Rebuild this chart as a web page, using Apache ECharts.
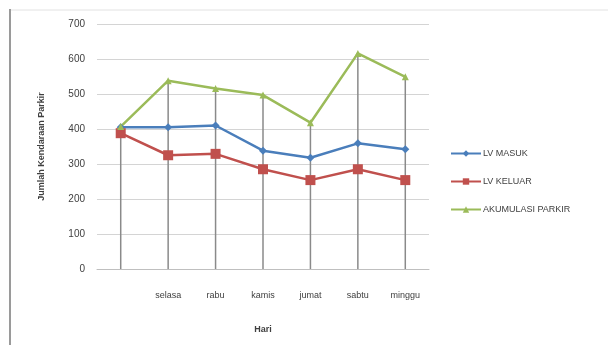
<!DOCTYPE html>
<html>
<head>
<meta charset="utf-8">
<script src="https://cdn.jsdelivr.net/npm/echarts@6/dist/echarts.min.js"></script>
<style>
  html, body { margin: 0; padding: 0; background: #fff; }
  #chart { width: 608px; height: 345px; }
</style>
</head>
<body>
<div id="chart"></div>
<script>
// Days of the week (first label left blank)
const days = ['', 'selasa', 'rabu', 'kamis', 'jumat', 'sabtu', 'minggu'];
// Vehicles entering, leaving and accumulated parking per day
const lvMasuk = [405, 405, 410, 338, 318, 359, 342];
const lvKeluar = [388, 325, 329, 285, 254, 285, 254];
const akumulasi = [407, 538, 516, 497, 418, 616, 549];
const yTicks = [0, 100, 200, 300, 400, 500, 600, 700];

// Drop lines run from the highest point of each day down to the axis
const dropTop = days.map((_, i) => Math.max(lvMasuk[i], lvKeluar[i], akumulasi[i]));

const textColor = '#404040';
const font = 'Liberation Sans, Arial, sans-serif';

const chart = echarts.init(document.getElementById('chart'), null, { renderer: 'canvas' });
chart.setOption({
  backgroundColor: '#fff',
  animation: false,
  graphic: [
    { type: 'line', shape: { x1: 10, y1: 10, x2: 608, y2: 10 }, style: { stroke: '#e2e2e2', lineWidth: 1 } },
    { type: 'line', shape: { x1: 10, y1: 9, x2: 10, y2: 345 }, style: { stroke: '#9a9a9a', lineWidth: 2 } }
  ],
  grid: { left: 97, right: 179, top: 24, bottom: 76 },
  legend: {
    orient: 'vertical',
    left: 445,
    top: 144,
    itemGap: 19,
    itemWidth: 30,
    itemHeight: 8,
    textStyle: { fontSize: 9, color: textColor, fontFamily: font, padding: [0, 0, 0, -3] },
    data: ['LV MASUK', 'LV KELUAR', 'AKUMULASI PARKIR']
  },
  xAxis: {
    type: 'category',
    data: days,
    boundaryGap: true,
    name: 'Hari',
    nameLocation: 'middle',
    nameGap: 56,
    nameTextStyle: { fontSize: 9, fontWeight: 'bold', color: textColor, fontFamily: font },
    axisLine: { lineStyle: { color: '#bfbfbf', width: 1 } },
    axisTick: { show: false },
    axisLabel: { fontSize: 9, color: textColor, margin: 22, fontFamily: font, interval: 0 }
  },
  yAxis: {
    type: 'value',
    min: yTicks[0],
    max: yTicks[yTicks.length - 1],
    interval: 100,
    name: 'Jumlah Kendaraan Parkir',
    nameLocation: 'middle',
    nameGap: 51,
    nameTextStyle: { fontSize: 9, fontWeight: 'bold', color: textColor, fontFamily: font },
    axisLine: { show: false },
    axisTick: { show: false },
    axisLabel: { fontSize: 10, color: textColor, margin: 12, fontFamily: font },
    splitLine: { lineStyle: { color: '#d4d4d4', width: 1 } }
  },
  series: [
    {
      name: 'drop',
      type: 'bar',
      data: dropTop,
      barWidth: 1.5,
      itemStyle: { color: '#8a8a8a' },
      silent: true,
      z: 1
    },
    {
      name: 'LV MASUK',
      type: 'line',
      data: lvMasuk,
      symbol: 'diamond',
      symbolSize: 8,
      lineStyle: { color: '#4a7ebb', width: 2.5 },
      itemStyle: { color: '#4a7ebb' },
      z: 3
    },
    {
      name: 'LV KELUAR',
      type: 'line',
      data: lvKeluar,
      symbol: 'rect',
      symbolSize: 10,
      lineStyle: { color: '#c0504d', width: 2.5 },
      itemStyle: { color: '#c0504d' },
      z: 3
    },
    {
      name: 'AKUMULASI PARKIR',
      type: 'line',
      data: akumulasi,
      symbol: 'triangle',
      symbolSize: 7,
      lineStyle: { color: '#9bbb59', width: 2.5 },
      itemStyle: { color: '#9bbb59' },
      z: 3
    }
  ]
});
</script>
</body>
</html>
